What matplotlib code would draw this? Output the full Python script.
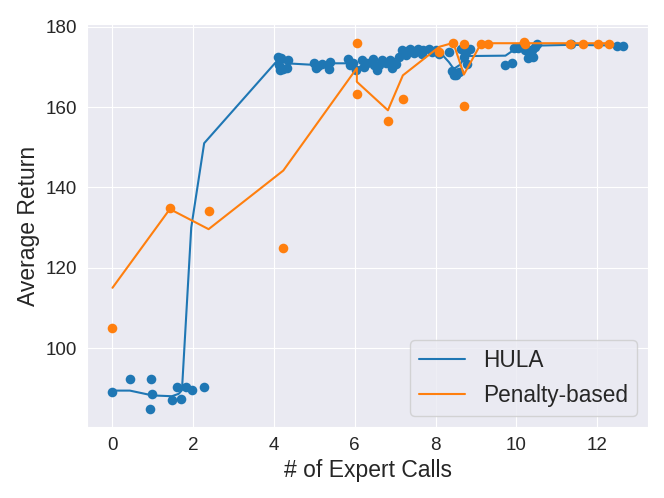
import matplotlib
matplotlib.use("Agg")
import matplotlib.pyplot as plt
import seaborn as sns

# HULA runs: (expert calls, average return)
hula_x = [0.0, 0.43, 0.95, 0.99, 0.94, 1.47, 1.60, 1.69, 1.83, 1.97, 2.27,
          4.09, 4.17, 4.13, 4.34, 4.21, 4.31, 4.15,
          5.00, 5.04, 5.20, 5.10, 5.38, 5.37,
          5.82, 5.88, 6.02, 5.95,
          6.19, 6.23, 6.30, 6.44, 6.48, 6.56, 6.68, 6.77, 6.86, 6.91, 7.01, 6.60,
          7.18, 7.26, 7.36, 7.46, 7.57, 7.67, 7.83, 8.00, 8.09, 7.10, 7.30, 7.50, 7.70, 7.90,
          8.33, 8.41, 8.50, 8.59, 8.62, 8.75, 8.78, 8.86, 8.45, 8.70,
          9.73, 9.89, 9.93, 10.14, 10.22, 10.35, 10.39, 10.47, 10.51, 10.30, 10.42, 10.05,
          11.36, 12.49, 12.63]
hula_y = [89.0, 92.2, 92.2, 88.5, 84.9, 87.1, 90.4, 87.3, 90.4, 89.5, 90.3,
          172.4, 172.3, 170.4, 171.6, 169.6, 169.7, 169.3,
          171.0, 169.8, 170.8, 170.2, 171.2, 169.6,
          172.0, 170.4, 169.2, 171.0,
          171.6, 170.1, 171.0, 172.0, 170.6, 169.2, 171.8, 171.0, 171.8, 169.8, 170.8, 170.5,
          174.3, 172.9, 174.5, 173.4, 174.5, 173.3, 174.5, 174.1, 173.3, 172.5, 174.0, 174.0, 174.2, 173.6,
          173.7, 168.9, 167.9, 168.7, 174.5, 173.7, 170.8, 174.5, 168.0, 172.5,
          170.5, 171.0, 174.7, 175.3, 174.1, 172.9, 174.1, 174.9, 175.7, 172.2, 172.5, 174.6,
          175.6, 175.3, 175.1]

# HULA trend line
hula_line_x = [0.0, 0.43, 0.99, 1.47, 1.64, 1.72, 1.95, 2.27, 4.10, 4.30, 5.00, 5.40,
               5.90, 6.05, 6.30, 6.90, 7.10, 7.50, 8.00, 8.15, 8.33, 8.45, 8.60, 8.75,
               9.73, 9.92, 10.50, 11.36, 12.63]
hula_line_y = [89.4, 89.4, 88.2, 88.0, 88.6, 89.5, 130.0, 151.0, 171.8, 170.9, 170.5, 170.9,
               170.9, 169.7, 170.9, 171.3, 172.8, 173.8, 174.0, 173.2, 171.2, 169.5, 170.5, 172.7,
               172.8, 174.1, 175.3, 175.5, 175.3]

# Penalty-based runs
pen_x = [0.0, 1.42, 2.38, 4.23, 6.05, 6.05, 6.82, 7.19, 8.09, 8.44, 8.70, 8.70,
         9.13, 9.29, 10.18, 10.22, 11.33, 11.66, 12.03, 12.30]
pen_y = [105.0, 134.8, 134.1, 125.0, 175.9, 163.3, 156.5, 162.0, 173.7, 176.0, 175.7, 160.2,
         175.8, 175.7, 176.1, 175.7, 175.8, 175.8, 175.8, 175.7]

pen_line_x = [0.0, 1.42, 2.38, 4.23, 6.05, 6.05, 6.82, 7.19, 8.09, 8.44, 8.70, 9.13, 12.30]
pen_line_y = [115.0, 134.6, 129.6, 144.2, 169.7, 166.3, 159.2, 167.9, 175.0, 176.0, 168.1, 175.9, 175.9]

sns.set_style("darkgrid")
plt.rcParams['font.family'] = ['Liberation Sans', 'DejaVu Sans']

fig = plt.figure(figsize=(6.64, 4.98), dpi=100)
ax = fig.add_axes([0.131, 0.1426, 0.845, 0.809])

blue, orange = "#1f77b4", "#ff7f0e"
ax.scatter(hula_x, hula_y, s=48, color=blue, linewidth=0, zorder=2)
ax.plot(hula_line_x, hula_line_y, color=blue, linewidth=1.5, label="HULA", zorder=2)
ax.scatter(pen_x, pen_y, s=48, color=orange, linewidth=0, zorder=3)
ax.plot(pen_line_x, pen_line_y, color=orange, linewidth=1.5, label="Penalty-based", zorder=3)

ax.set_xticks([0, 2, 4, 6, 8, 10, 12])
ax.set_yticks([100, 120, 140, 160, 180])
ax.tick_params(labelsize=13.6)
ax.set_xlabel("# of Expert Calls", fontsize=16.5)
ax.set_ylabel("Average Return", fontsize=16.5)
ax.legend(loc='lower right', fontsize=16.3)

fig.savefig("out.png", dpi=100)
